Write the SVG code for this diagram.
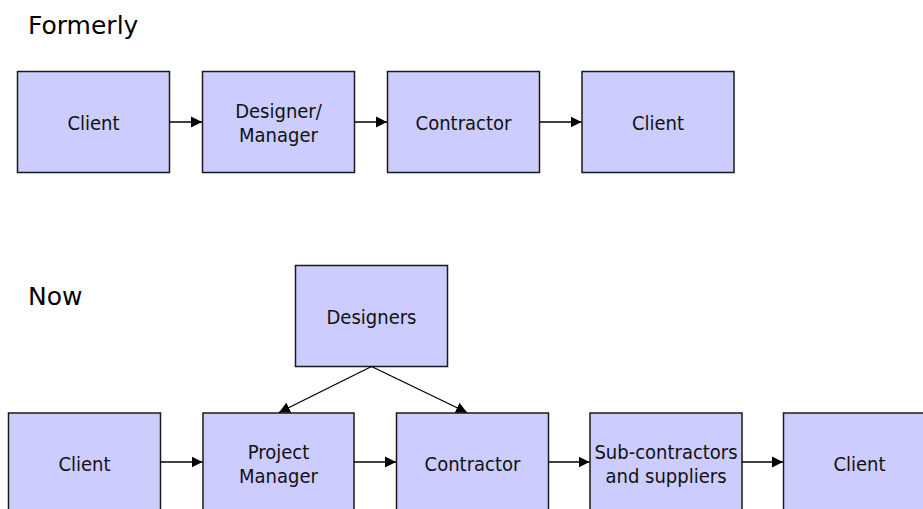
<svg xmlns="http://www.w3.org/2000/svg" width="923" height="509" viewBox="0 0 923 509">
<style>
.box{fill:#ccccff;stroke:#1a1a1a;stroke-width:1.5}
.t{font-family:"DejaVu Sans",Verdana,sans-serif;font-stretch:condensed;font-size:20px;fill:#111;text-anchor:middle}
.h{font-family:"DejaVu Sans",Verdana,sans-serif;font-size:25px;fill:#000}
.c{stroke:#000;stroke-width:1.3;fill:none;marker-end:url(#ah)}
</style>
<defs>
<marker id="ah" markerUnits="userSpaceOnUse" markerWidth="12" markerHeight="12" viewBox="0 0 12 12" refX="11" refY="6" orient="auto">
<path d="M0,0.5 L11,6 L0,11.5 Z" fill="#000"/>
</marker>
</defs>
<rect width="923" height="509" fill="#fff"/>
<text class="h" x="28" y="34">Formerly</text>
<text class="h" x="28" y="305">Now</text>
<g id="f-client1"><rect class="box" x="17.5" y="71.5" width="152" height="101"/><text class="t" x="93.5" y="130">Client</text></g>
<g id="f-designer"><rect class="box" x="202.5" y="71.5" width="152" height="101"/><text class="t" x="278.5" y="118">Designer/</text><text class="t" x="278.5" y="142">Manager</text></g>
<g id="f-contractor"><rect class="box" x="387.5" y="71.5" width="152" height="101"/><text class="t" x="463.5" y="130">Contractor</text></g>
<g id="f-client2"><rect class="box" x="582" y="71.5" width="152" height="101"/><text class="t" x="658" y="130">Client</text></g>
<g id="n-designers"><rect class="box" x="295.5" y="265.5" width="152" height="101"/><text class="t" x="371.5" y="324">Designers</text></g>
<g id="n-client1"><rect class="box" x="8.5" y="413" width="152" height="101"/><text class="t" x="84.5" y="471">Client</text></g>
<g id="n-pm"><rect class="box" x="203" y="413" width="151" height="101"/><text class="t" x="278.5" y="459">Project</text><text class="t" x="278.5" y="483">Manager</text></g>
<g id="n-contractor"><rect class="box" x="396.5" y="413" width="152" height="101"/><text class="t" x="472.5" y="471">Contractor</text></g>
<g id="n-sub"><rect class="box" x="590" y="413" width="152" height="101"/><text class="t" x="666" y="459">Sub-contractors</text><text class="t" x="666" y="483">and suppliers</text></g>
<g id="n-client2"><rect class="box" x="783.5" y="413" width="152" height="101"/><text class="t" x="859.5" y="471">Client</text></g>
<g id="connectors">
<line class="c" x1="169.5" y1="122" x2="202" y2="122"/>
<line class="c" x1="354.5" y1="122" x2="387" y2="122"/>
<line class="c" x1="539.5" y1="122" x2="581.5" y2="122"/>
<line class="c" x1="160.5" y1="462" x2="202.5" y2="462"/>
<line class="c" x1="354" y1="462" x2="396" y2="462"/>
<line class="c" x1="548.5" y1="462" x2="589.5" y2="462"/>
<line class="c" x1="742" y1="462" x2="783" y2="462"/>
<line class="c" x1="371.5" y1="366.5" x2="279" y2="412.5"/>
<line class="c" x1="371.5" y1="366.5" x2="467" y2="412.5"/>
</g>
</svg>
